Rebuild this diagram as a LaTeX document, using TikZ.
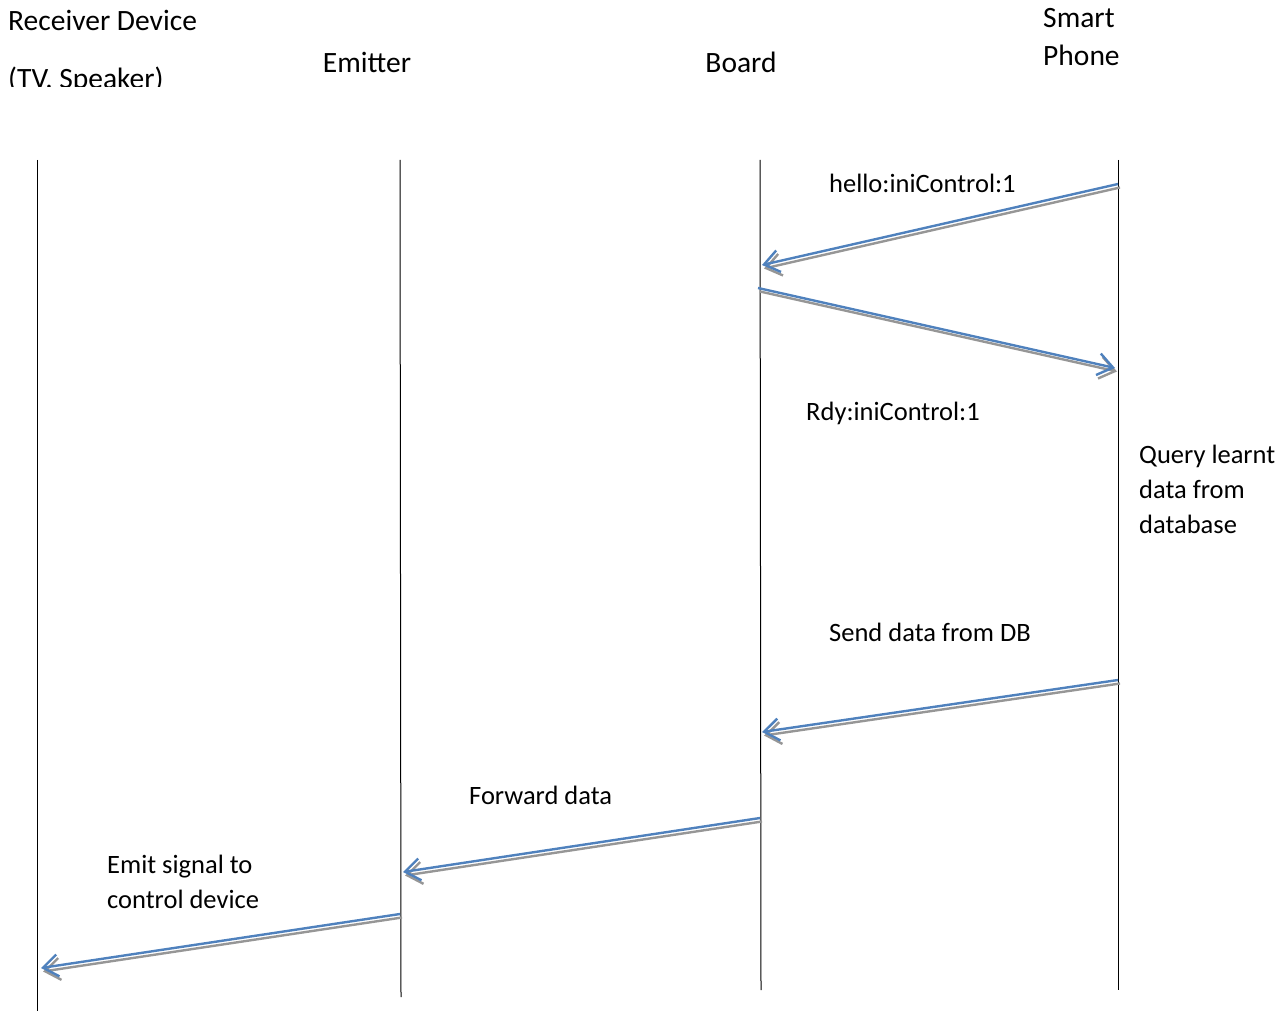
\documentclass[tikz,border=0pt]{standalone}
\usepackage{fontspec}
\setmainfont{Carlito}
\usetikzlibrary{arrows.meta}
\definecolor{msgblue}{RGB}{79,129,189}
\definecolor{msggray}{RGB}{150,150,150}
\begin{document}
\begin{tikzpicture}[x=1pt,y=-1pt,
  every node/.style={inner sep=0pt},
  heading/.style={font=\fontsize{29.5}{38}\selectfont},
  lifeline/.style={draw=black, line width=1pt},
  barb/.style={-{Straight Barb[length=15pt,width=22pt,line width=2.4pt]}},
  msgshadow/.style={draw=msggray, line width=2.4pt, barb},
  msg/.style={draw=msgblue, line width=2.4pt, barb},
  msgtext/.style={anchor=west, align=left, font=\fontsize{26.5}{35}\selectfont}]
\useasboundingbox (0,0) rectangle (1287,1011);

% participant headings
\node[heading, anchor=west] (recv) at (8,20) {Receiver Device};
\begin{scope}
  \clip (0,0) rectangle (300,87);
  \node[heading, anchor=base west] (recvsub) at (8,89) {(TV. Speaker)};
\end{scope}
\node[heading] (emit) at (367,62) {Emitter};
\node[heading] (board) at (741,62) {Board};
\node[heading, anchor=west, align=left] (phone) at (1043,37) {Smart\\Phone};

% lifelines
\coordinate (rT) at (37,160);  \coordinate (rB) at (37,1011);
\coordinate (eT) at (400,160); \coordinate (eB) at (401,997);
\coordinate (bT) at (760,160); \coordinate (bB) at (761,990);
\coordinate (pT) at (1118,160);\coordinate (pB) at (1118,990);
\draw[lifeline] (rT) -- (rB);
\draw[lifeline] (eT) -- (eB);
\draw[lifeline] (bT) -- (bB);
\draw[lifeline] (pT) -- (pB);

% message end points
\coordinate (m1s) at (1118,184); \coordinate (m1e) at (762,265);
\coordinate (m2s) at (758,288);  \coordinate (m2e) at (1115,368);
\coordinate (m3s) at (1118,680); \coordinate (m3e) at (762,732);
\coordinate (m4s) at (760,818);  \coordinate (m4e) at (403,872);
\coordinate (m5s) at (400,914);  \coordinate (m5e) at (41,968);

% messages: grey shadow offset down-right, blue line on top
\foreach \a/\b in {m1s/m1e, m2s/m2e, m3s/m3e, m4s/m4e, m5s/m5e}{
  \draw[msgshadow] ([shift={(2,3.5)}]\a) -- ([shift={(2,3.5)}]\b);
  \draw[msg] (\a) -- (\b);
}

% message labels
\node[msgtext] (l1) at (829,183) {hello:iniControl:1};
\node[msgtext] (l2) at (806,413) {Rdy:iniControl:1};
\node[msgtext] (l3) at (1139,489) {Query learnt\\data from\\database};
\node[msgtext] (l4) at (829,632) {Send data from DB};
\node[msgtext] (l5) at (469,795) {Forward data};
\node[msgtext] (l6) at (107,882) {Emit signal to\\control device};
\end{tikzpicture}
\end{document}
